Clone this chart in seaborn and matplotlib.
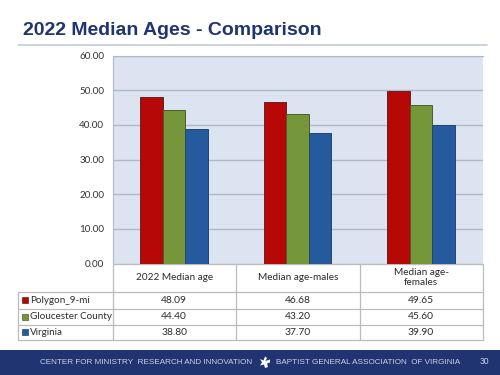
import matplotlib
matplotlib.use('Agg')
import matplotlib.pyplot as plt
from matplotlib.patches import Rectangle, Polygon
import pandas as pd
import seaborn as sns

# Values
categories = ['2022 Median age', 'Median age-males', 'Median age-\nfemales']
series_names = ['Polygon_9-mi', 'Gloucester County', 'Virginia']
polygon_vals = [48.09, 46.68, 49.65]
gloucester_vals = [44.40, 43.20, 45.60]
virginia_vals = [38.80, 37.70, 39.90]
y_ticks = [0, 10, 20, 30, 40, 50, 60]

title = '2022 Median Ages - Comparison'
footer_left = 'CENTER FOR MINISTRY  RESEARCH AND INNOVATION'
footer_right = 'BAPTIST GENERAL ASSOCIATION  OF VIRGINIA'
page_no = '30'

colors = ['#b70808', '#76963a', '#255b9e']
edges = ['#6a2020', '#4c5c30', '#24466e']
navy = '#1f3470'
W, H = 500, 375

rows = [polygon_vals, gloucester_vals, virginia_vals]
df = pd.DataFrame({
    'category': categories * 3,
    'series': [s for s in series_names for _ in categories],
    'value': polygon_vals + gloucester_vals + virginia_vals,
})

sns.set_style('white')
plt.rcParams['font.family'] = ['Lato', 'DejaVu Sans']

fig = plt.figure(figsize=(5, 3.75), dpi=100)

# Overlay in pixel coordinates for the slide furniture and the data table
bg = fig.add_axes([0, 0, 1, 1])
bg.set_xlim(0, W)
bg.set_ylim(H, 0)
bg.axis('off')

bg.text(23, 35, title, fontsize=14, fontweight='bold', color=navy,
        family='Liberation Sans', va='baseline')
bg.plot([18, 487], [44.5, 44.5], color='#c3cbd8', lw=1.2)

# Chart
left, right, top, bottom = 112.5, 482.5, 55.5, 263.5
ax = fig.add_axes([left / W, 1 - bottom / H, (right - left) / W, (bottom - top) / H])
ax.set_facecolor('#dde4f1')
sns.barplot(data=df, x='category', y='value', hue='series', palette=colors,
            saturation=1, width=0.55, gap=0, legend=False, ax=ax, zorder=3)
for cont, ec in zip(ax.containers, edges):
    for bar in cont:
        bar.set_edgecolor(ec)
        bar.set_linewidth(0.7)
ax.set_ylim(0, 60)
ax.set_xlim(-0.5, 2.5)
ax.set_yticks(y_ticks)
ax.set_yticklabels([f'{v:.2f}' for v in y_ticks], fontsize=7.1, color='#333333')
ax.set_xticks([])
ax.set_xlabel('')
ax.set_ylabel('')
ax.tick_params(axis='y', length=0, pad=6)
ax.yaxis.grid(True, color='#b2b9c6', lw=1.0, zorder=1)
ax.set_axisbelow(True)
for name, sp in ax.spines.items():
    sp.set_visible(name in ('left', 'top'))
    sp.set_color('#b2b9c6')

# Data table
grid = '#bbbbbb'
col_x = [112.5, 236, 359.5, 482.5]
row_y = [263.5, 292, 308.5, 324.5, 340]
table_left = 17.5
bg.plot([col_x[0], col_x[-1]], [row_y[0], row_y[0]], color=grid, lw=0.9)
for y in row_y[1:]:
    bg.plot([table_left, col_x[-1]], [y, y], color=grid, lw=0.9)
bg.plot([table_left, table_left], [row_y[1], row_y[-1]], color=grid, lw=0.9)
for x in col_x:
    bg.plot([x, x], [row_y[0], row_y[-1]], color=grid, lw=0.9)

tc = '#2b2b2b'
for j, cat in enumerate(categories):
    xc = (col_x[j] + col_x[j + 1]) / 2
    bg.text(xc, (row_y[0] + row_y[1]) / 2, cat, ha='center', va='center',
            fontsize=7.2, color=tc, linespacing=1.15)
for i, name in enumerate(series_names):
    yc = (row_y[i + 1] + row_y[i + 2]) / 2
    bg.add_patch(Rectangle((21.5, yc - 3), 6, 6, fc=colors[i], ec=edges[i], lw=0.5))
    bg.text(30, yc, name, ha='left', va='center', fontsize=7.1, color=tc)
    for j, v in enumerate(rows[i]):
        xc = (col_x[j] + col_x[j + 1]) / 2
        bg.text(xc, yc, f'{v:.2f}', ha='center', va='center', fontsize=7.4, color=tc)

# Footer band
bg.add_patch(Rectangle((0, 350), W, 25, fc=navy, ec='none'))
ft = '#c9d2e6'
bg.text(40, 362, footer_left, ha='left', va='center', fontsize=5.85, color=ft,
        family='Liberation Sans')
bg.text(276, 362, footer_right, ha='left', va='center', fontsize=5.85, color=ft,
        family='Liberation Sans')
bg.text(480, 362, page_no, ha='left', va='center', fontsize=6.2, color=ft,
        family='Liberation Sans')
# Small logo next to the footer text
bg.add_patch(Polygon([(260, 359), (263.5, 360.5), (265, 356.5), (267, 358), (265.5, 361),
                      (270, 359.5), (270, 362.5), (267, 363.5), (268, 367), (265, 368),
                      (264, 364.5), (260, 365.5), (262, 362.5)],
                     fc='white', ec='none'))

fig.savefig('out.png', dpi=100)
